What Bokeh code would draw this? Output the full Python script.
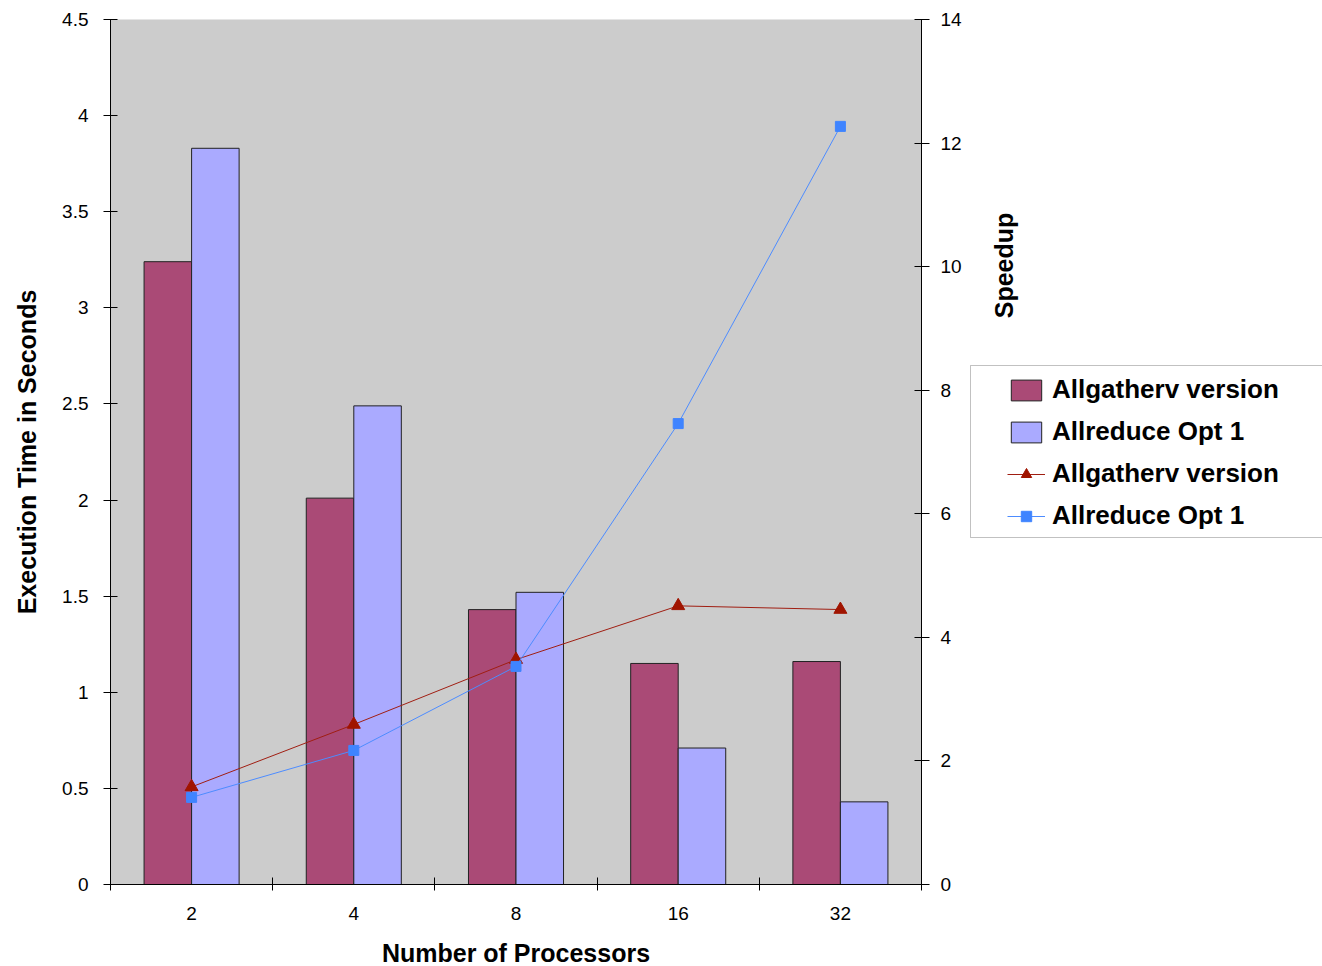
from math import pi
from bokeh.plotting import figure
from bokeh.layouts import row
from bokeh.models import (ColumnDataSource, Range1d, LinearAxis, FixedTicker,
                          NumeralTickFormatter, Legend, LegendItem, Label, BoxAnnotation)
from bokeh.transform import dodge
from bokeh.embed import file_html
from bokeh.resources import INLINE

# ---- data ----
processors = ["2", "4", "8", "16", "32"]
time_allgatherv = [3.24, 2.01, 1.43, 1.15, 1.16]
time_allreduce = [3.83, 2.49, 1.52, 0.71, 0.43]
speedup_allgatherv = [1.58, 2.59, 3.64, 4.51, 4.45]
speedup_allreduce = [1.41, 2.17, 3.53, 7.46, 12.27]
time_ticks = [0, 0.5, 1, 1.5, 2, 2.5, 3, 3.5, 4, 4.5]
speedup_ticks = [0, 2, 4, 6, 8, 10, 12, 14]
series_names = ["Allgatherv version", "Allreduce Opt 1"]

FONT = "Liberation Sans"
AG_BAR = "#AA4A76"
AR_BAR = "#AAAAFF"
AG_LINE = "#A01E12"
AG_MARK = "#A01400"
AR_LINE = "#4D8CFF"
AR_MARK = "#3F84FF"
OUTLINE = "#222222"

positions = [i + 0.5 for i in range(len(processors))]
boundaries = [float(i) for i in range(len(processors) + 1)]

src = ColumnDataSource(dict(
    x=positions,
    t_ag=time_allgatherv, t_ar=time_allreduce,
    s_ag=speedup_allgatherv, s_ar=speedup_allreduce,
))

TOP, BOTTOM, FRAME_H = 19, 82, 865

p = figure(frame_width=811, frame_height=FRAME_H,
           min_border_left=110, min_border_right=45,
           min_border_top=TOP, min_border_bottom=BOTTOM,
           x_range=Range1d(0, len(processors)), y_range=Range1d(0, 4.5),
           output_backend="svg", toolbar_location=None)
p.extra_y_ranges = {"speedup": Range1d(0, 14)}

p.background_fill_color = "#CCCCCC"
p.border_fill_color = "white"
p.outline_line_color = None
p.xgrid.visible = False
p.ygrid.visible = False

bw = 0.293
p.vbar(x=dodge("x", -bw / 2, range=p.x_range), top="t_ag", width=bw, source=src,
       fill_color=AG_BAR, line_color=OUTLINE, line_width=1)
p.vbar(x=dodge("x", bw / 2, range=p.x_range), top="t_ar", width=bw, source=src,
       fill_color=AR_BAR, line_color=OUTLINE, line_width=1)

p.line("x", "s_ag", source=src, y_range_name="speedup", line_color=AG_LINE, line_width=1)
p.scatter("x", "s_ag", source=src, y_range_name="speedup", marker="triangle", size=13,
          fill_color=AG_MARK, line_color=AG_MARK)
p.line("x", "s_ar", source=src, y_range_name="speedup", line_color=AR_LINE, line_width=1)
p.scatter("x", "s_ar", source=src, y_range_name="speedup", marker="square", size=10,
          fill_color=AR_MARK, line_color=AR_MARK)

# bottom axis
xa = p.xaxis[0]
xa.ticker = FixedTicker(ticks=positions, minor_ticks=boundaries)
xa.major_label_overrides = {x: c for x, c in zip(positions, processors)}
xa.major_tick_in = 0
xa.major_tick_out = 0
xa.minor_tick_in = 7
xa.minor_tick_out = 6
xa.minor_tick_line_color = "black"
xa.axis_line_color = "black"
xa.major_label_standoff = 16
xa.major_label_text_font = FONT
xa.major_label_text_font_size = "19px"
xa.major_label_text_color = "black"
xa.axis_label = "Number of Processors"
xa.axis_label_text_font = FONT
xa.axis_label_text_font_style = "bold"
xa.axis_label_text_font_size = "25px"
xa.axis_label_text_color = "black"
xa.axis_label_standoff = 16

# left axis
ya = p.yaxis[0]
ya.ticker = FixedTicker(ticks=time_ticks)
ya.formatter = NumeralTickFormatter(format="0.[0]")
ya.minor_tick_line_color = None
ya.major_tick_in = 7
ya.major_tick_out = 7
ya.major_tick_line_color = "black"
ya.axis_line_color = "black"
ya.major_label_standoff = 15
ya.major_label_text_font = FONT
ya.major_label_text_font_size = "19px"
ya.major_label_text_color = "black"
ya.axis_label = "Execution Time in Seconds"
ya.axis_label_text_font = FONT
ya.axis_label_text_font_style = "bold"
ya.axis_label_text_font_size = "25px"
ya.axis_label_text_color = "black"
ya.axis_label_standoff = 18

# right axis
ra = LinearAxis(y_range_name="speedup", ticker=FixedTicker(ticks=speedup_ticks))
ra.minor_tick_line_color = None
ra.major_tick_in = 7
ra.major_tick_out = 8
ra.major_tick_line_color = "black"
ra.axis_line_color = "black"
ra.major_label_standoff = 11
ra.major_label_text_font = FONT
ra.major_label_text_font_size = "19px"
ra.major_label_text_color = "black"
p.add_layout(ra, "right")

# ---- side panel: right-axis title and legend ----
# data units of this panel = pixels: x from its left edge, y up from the chart's baseline
W2 = 356
q = figure(frame_width=W2, frame_height=FRAME_H,
           min_border_left=0, min_border_right=0,
           min_border_top=TOP, min_border_bottom=BOTTOM,
           x_range=Range1d(0, W2), y_range=Range1d(0, FRAME_H),
           x_axis_type=None, y_axis_type=None,
           output_backend="svg", toolbar_location=None)
q.outline_line_color = None
q.background_fill_color = "white"
q.border_fill_color = "white"

q.add_layout(Label(x=37, y=619, text="Speedup", angle=pi / 2,
                   text_align="center", text_baseline="middle",
                   text_font=FONT, text_font_style="bold", text_font_size="25px",
                   text_color="black"))

q.add_layout(BoxAnnotation(left=4, right=W2 + 20, bottom=347, top=519,
                           fill_color="white", fill_alpha=1.0,
                           line_color="#333333", line_width=1, level="underlay"))

# legend proxies (same data, hidden; only their legend glyphs are shown)
g1 = q.vbar(x="x", top="t_ag", width=bw, source=src, fill_color=AG_BAR, line_color=OUTLINE, visible=False)
g2 = q.vbar(x="x", top="t_ar", width=bw, source=src, fill_color=AR_BAR, line_color=OUTLINE, visible=False)
g3 = q.line("x", "s_ag", source=src, line_color=AG_LINE, line_width=1, visible=False)
g4 = q.scatter("x", "s_ag", source=src, marker="triangle", size=13,
               fill_color=AG_MARK, line_color=AG_MARK, visible=False)
g5 = q.line("x", "s_ar", source=src, line_color=AR_LINE, line_width=1, visible=False)
g6 = q.scatter("x", "s_ar", source=src, marker="square", size=10,
               fill_color=AR_MARK, line_color=AR_MARK, visible=False)

legend = Legend(items=[
    LegendItem(label=series_names[0], renderers=[g1]),
    LegendItem(label=series_names[1], renderers=[g2]),
    LegendItem(label=series_names[0], renderers=[g3, g4]),
    LegendItem(label=series_names[1], renderers=[g5, g6]),
], location=(41, 353), orientation="vertical")
legend.padding = 10
legend.spacing = 11
legend.glyph_width = 38
legend.glyph_height = 26
legend.label_height = 24
legend.label_standoff = 7
legend.label_text_font = FONT
legend.label_text_font_style = "bold"
legend.label_text_font_size = "26px"
legend.label_text_color = "black"
legend.label_text_baseline = "middle"
legend.border_line_color = None
legend.background_fill_alpha = 0.0
q.add_layout(legend, "center")

layout = row(p, q, spacing=0)
open("out.html", "w").write(file_html(layout, INLINE))
